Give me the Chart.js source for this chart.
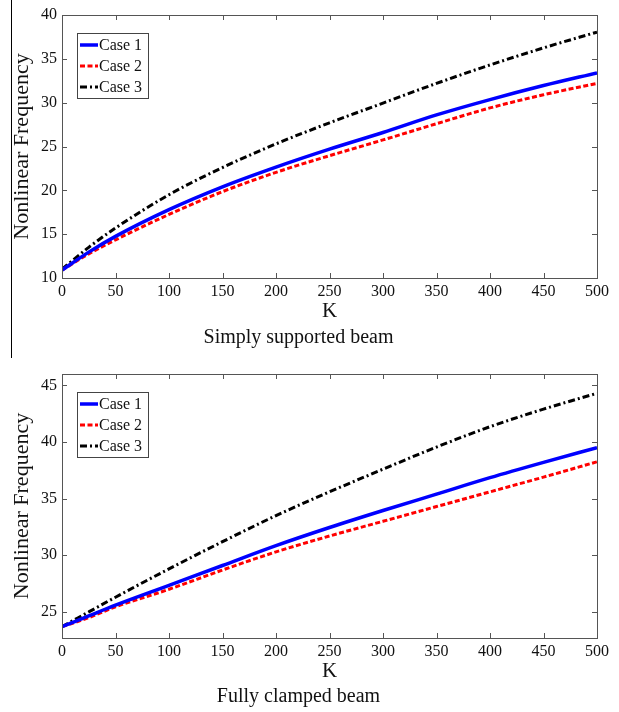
<!DOCTYPE html>
<html>
<head>
<meta charset="utf-8">
<script src="https://cdn.jsdelivr.net/npm/chart.js@4"></script>
<style>
  html, body { margin: 0; padding: 0; background: #fff; }
  #page { position: relative; width: 619px; height: 712px; }
  .box { position: absolute; left: 0; width: 619px; height: 356px; }
  #top { top: 0; }
  #bottom { top: 356px; }
  #edge { position: absolute; left: 11px; top: 0; width: 1px; height: 358px; background: #000; }
</style>
</head>
<body>
<div id="page">
  <div class="box" id="top"><canvas id="ssChart"></canvas></div>
  <div class="box" id="bottom"><canvas id="fcChart"></canvas></div>
  <div id="edge"></div>
</div>
<script>
// K values along the x axis
const kValues = [0, 25, 50, 100, 150, 200, 250, 300, 350, 400, 450, 500];
const caseLabels = ['Case 1', 'Case 2', 'Case 3'];

// Simply supported beam
const ssCase1 = [10.9, 12.95, 14.75, 17.8, 20.4, 22.65, 24.7, 26.6, 28.6, 30.35, 31.95, 33.4];
const ssCase2 = [10.9, 12.75, 14.35, 17.25, 19.85, 22.05, 23.95, 25.75, 27.6, 29.4, 30.9, 32.2];
const ssCase3 = [11.0, 13.5, 15.7, 19.5, 22.6, 25.3, 27.7, 29.95, 32.2, 34.3, 36.25, 38.05];

// Fully clamped beam
const fcCase1 = [23.7, 24.65, 25.6, 27.35, 29.1, 30.85, 32.45, 33.95, 35.4, 36.85, 38.2, 39.5];
const fcCase2 = [23.7, 24.5, 25.45, 27.0, 28.7, 30.3, 31.7, 33.0, 34.3, 35.6, 36.9, 38.25];
const fcCase3 = [23.7, 25.0, 26.3, 28.8, 31.2, 33.5, 35.6, 37.6, 39.55, 41.35, 42.9, 44.3];

const xTicks = [0, 50, 100, 150, 200, 250, 300, 350, 400, 450, 500];
const ssTicks = [10, 15, 20, 25, 30, 35, 40];
const fcTicks = [25, 30, 35, 40, 45];

const serif = '"Liberation Serif", "Times New Roman", serif';
const axisColor = '#555';

// frame, inward ticks and the boxed legend, MATLAB style
const framePlugin = {
    id: 'frame',
    afterDraw(chart) {
        const { ctx, chartArea: a, scales } = chart;
        ctx.save();
        ctx.strokeStyle = axisColor;
        ctx.lineWidth = 1;
        ctx.strokeRect(a.left + 0.5, a.top + 0.5, a.right - a.left, a.bottom - a.top);
        const tl = 5;
        ctx.beginPath();
        scales.x.ticks.forEach(t => {
            const px = Math.round(scales.x.getPixelForValue(t.value)) + 0.5;
            ctx.moveTo(px, a.bottom); ctx.lineTo(px, a.bottom - tl);
            ctx.moveTo(px, a.top); ctx.lineTo(px, a.top + tl);
        });
        scales.y.ticks.forEach(t => {
            const py = Math.round(scales.y.getPixelForValue(t.value)) + 0.5;
            ctx.moveTo(a.left, py); ctx.lineTo(a.left + tl, py);
            ctx.moveTo(a.right, py); ctx.lineTo(a.right - tl, py);
        });
        ctx.stroke();

        // legend
        const lx = a.left + 15, ly = a.top + 18, lw = 71, lh = 65;
        ctx.fillStyle = '#fff';
        ctx.fillRect(lx, ly, lw, lh);
        ctx.strokeStyle = '#444';
        ctx.strokeRect(lx + 0.5, ly + 0.5, lw, lh);
        ctx.font = '16px ' + serif;
        ctx.textBaseline = 'middle';
        chart.data.datasets.forEach((ds, i) => {
            const y = ly + 12 + i * 21;
            ctx.beginPath();
            ctx.strokeStyle = ds.borderColor;
            ctx.lineWidth = ds.borderWidth;
            ctx.setLineDash(ds.borderDash || []);
            ctx.moveTo(lx + 3, y); ctx.lineTo(lx + 21, y);
            ctx.stroke();
            ctx.setLineDash([]);
            ctx.fillStyle = '#111';
            ctx.fillText(ds.label, lx + 22, y + 1);
        });
        ctx.restore();
    }
};

function makeChart(id, c1, c2, c3, yMin, yMax, yTicks, caption, topPad, capPad) {
    const mk = (label, data, color, width, dash) => ({
        label: label,
        data: kValues.map((k, i) => ({ x: k, y: data[i] })),
        borderColor: color,
        borderWidth: width,
        borderDash: dash,
        pointRadius: 0,
        fill: false,
        cubicInterpolationMode: 'monotone'
    });
    return new Chart(document.getElementById(id), {
        type: 'line',
        data: {
            datasets: [
                mk(caseLabels[0], c1, '#0000ff', 3.5, []),
                mk(caseLabels[1], c2, '#ff0000', 3, [5, 2.5]),
                mk(caseLabels[2], c3, '#000000', 3, [7, 3, 2, 3])
            ]
        },
        options: {
            responsive: true,
            maintainAspectRatio: false,
            animation: false,
            events: [],
            layout: { padding: { left: 0, right: 22, top: topPad, bottom: 0 } },
            plugins: {
                legend: { display: false },
                tooltip: { enabled: false },
                title: {
                    display: true,
                    position: 'bottom',
                    text: caption,
                    color: '#111',
                    font: { family: serif, size: 20, weight: 'normal' },
                    padding: capPad
                }
            },
            scales: {
                x: {
                    type: 'linear',
                    min: 0, max: 500,
                    afterBuildTicks: s => { s.ticks = xTicks.map(v => ({ value: v })); },
                    grid: { display: false, drawTicks: false },
                    border: { display: false },
                    ticks: { color: '#111', padding: 4, maxRotation: 0, font: { family: serif, size: 16 } },
                    title: { display: true, text: 'K', color: '#111', padding: 0, font: { family: serif, size: 21 } },
                    afterFit: s => { s.height = 46; }
                },
                y: {
                    min: yMin, max: yMax,
                    afterBuildTicks: s => { s.ticks = yTicks.map(v => ({ value: v })); },
                    grid: { display: false, drawTicks: false },
                    border: { display: false },
                    ticks: { color: '#111', padding: 5, font: { family: serif, size: 16 } },
                    title: { display: true, text: 'Nonlinear Frequency', color: '#111', padding: { top: 9, bottom: 0 }, font: { family: serif, size: 22 } },
                    afterFit: s => { s.width = 62; }
                }
            }
        },
        plugins: [framePlugin]
    });
}

makeChart('ssChart', ssCase1, ssCase2, ssCase3, 10, 40, ssTicks, 'Simply supported beam', 15, { top: 2, bottom: 6 });
makeChart('fcChart', fcCase1, fcCase2, fcCase3, 22.7, 46, fcTicks, 'Fully clamped beam', 18, { top: 1, bottom: 3 });
</script>
</body>
</html>
